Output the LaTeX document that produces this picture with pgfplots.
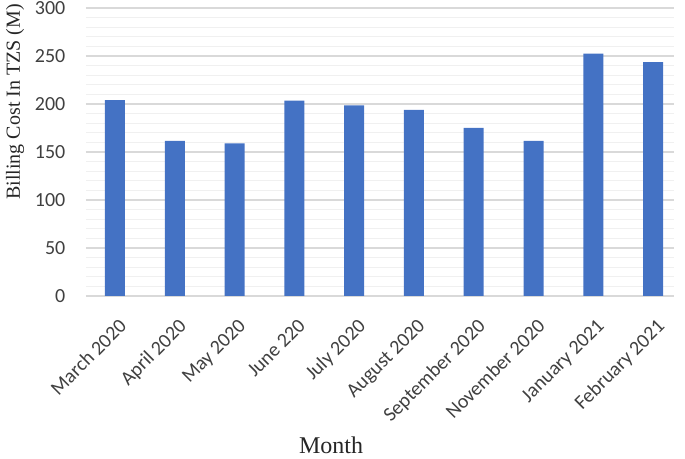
\documentclass[border=0pt]{standalone}
\usepackage{fontspec}
\setmainfont{Carlito}
\newfontfamily\titlefont{Liberation Serif}
\usepackage{pgfplots}
\pgfplotsset{compat=1.18}
\definecolor{barblue}{HTML}{4472C4}
\definecolor{majorgrid}{HTML}{D9D9D9}
\definecolor{minorgrid}{HTML}{F0F0F0}
\definecolor{ticktext}{HTML}{404040}
\definecolor{titletext}{HTML}{262626}

\begin{document}
\begin{tikzpicture}
% 1 px of the reference = 0.75pt
\useasboundingbox (-64.5pt,-122.25pt) rectangle (449.25pt,222pt);
\begin{axis}[
  at={(0,0)}, anchor=south west,
  scale only axis,
  width=441pt, height=216pt,
  ybar, bar width=15pt,
  ymin=0, ymax=300,
  ytick={0,50,...,300},
  minor y tick num=4,
  xmin=-0.485, xmax=9.35,
  xtick=data,
  xticklabels={March 2020,April 2020,May 2020,June 220,July 2020,August 2020,September 2020,November 2020,January 2021,February 2021},
  axis line style={draw=none},
  major tick length=0pt, minor tick length=0pt,
  ymajorgrids, yminorgrids,
  major grid style={majorgrid, line width=0.9pt},
  minor grid style={minorgrid, line width=0.6pt},
  tick label style={font=\fontsize{15}{18}\selectfont, text=ticktext},
  /pgf/number format/assume math mode=true,
  yticklabel style={xshift=-12pt},
  xticklabel style={inner sep=0pt, anchor=north east, yshift=-16pt, xshift=2pt, rotate=45},
  ylabel={Billing Cost In TZS (M)},
  ylabel style={at={(axis description cs:-0.1207,0.674)}, anchor=center, font=\titlefont\fontsize{15}{18}\selectfont, text=titletext},
  xlabel={Month},
  xlabel style={at={(axis description cs:0.4167,-0.52)}, anchor=center, font=\titlefont\fontsize{18}{21}\selectfont, text=titletext},
]
\addplot[fill=barblue, draw=none] coordinates {
  (0,204) (1,161.5) (2,159) (3,203.5) (4,198.5)
  (5,194) (6,175) (7,161.5) (8,252.5) (9,243.5)
};
\end{axis}
\end{tikzpicture}
\end{document}
